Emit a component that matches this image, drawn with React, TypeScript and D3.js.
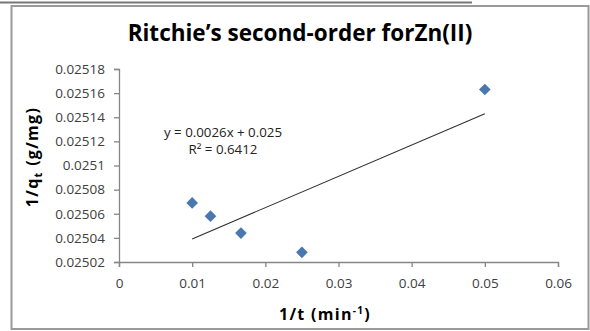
import * as d3 from "d3";
import {useEffect, useRef} from "react";

const WIDTH = 590;
const HEIGHT = 331;
// plot area inside the frame (where the axes sit)
const PLOT = {left: 119, right: 558, top: 69, bottom: 262};

// 1/t (min^-1) and 1/qt (g/mg)
const invT = [0.01, 0.0125, 0.016667, 0.025, 0.05];
const invQ = [0.025069, 0.025058, 0.025044, 0.025028, 0.025163];

const xTicks = [0, 0.01, 0.02, 0.03, 0.04, 0.05, 0.06];
const xTickLabels = ["0", "0.01", "0.02", "0.03", "0.04", "0.05", "0.06"];
const yTicks = [0.02502, 0.02504, 0.02506, 0.02508, 0.0251, 0.02512, 0.02514, 0.02516, 0.02518];
const yTickLabels = ["0.02502", "0.02504", "0.02506", "0.02508", "0.0251", "0.02512", "0.02514", "0.02516", "0.02518"];

const equationText = "y = 0.0026x + 0.025";
const r2Text = "R² = 0.6412";

const FONT = "'Open Sans', sans-serif";
const AXIS_GRAY = "#868686";
const MARKER = "#4A78AE";

const App = () => {
    const ref = useRef<SVGSVGElement>(null);

    useEffect(() => {
        const svg = d3.select(ref.current);
        svg.selectAll("*").remove();

        const x = d3.scaleLinear().domain([0, 0.06]).range([PLOT.left, PLOT.right]);
        const y = d3.scaleLinear().domain([0.02502, 0.02518]).range([PLOT.bottom, PLOT.top]);

        svg.append("rect").attr("width", WIDTH).attr("height", HEIGHT).attr("fill", "white");

        // table line on top + chart frame
        svg.append("line")
            .attr("x1", 0).attr("x2", 472).attr("y1", 2.5).attr("y2", 2.5)
            .attr("stroke", "#777").attr("stroke-width", 2);
        svg.append("rect")
            .attr("x", 11.5).attr("y", 6).attr("width", 577).attr("height", 323)
            .attr("fill", "none").attr("stroke", "#9a9a9a").attr("stroke-width", 2);

        // title
        svg.append("text")
            .attr("x", 300).attr("y", 41)
            .attr("text-anchor", "middle")
            .style("font-family", FONT).style("font-weight", "bold").style("font-size", "22.5px")
            .attr("fill", "#000")
            .text("Ritchie’s second-order forZn(II)");

        // axes
        const xAxis = d3.axisBottom(x)
            .tickValues(xTicks)
            .tickFormat((d, i) => xTickLabels[i])
            .tickSize(5).tickPadding(11);
        const yAxis = d3.axisLeft(y)
            .tickValues(yTicks)
            .tickFormat((d, i) => yTickLabels[i])
            .tickSize(5).tickPadding(9);

        const gx = svg.append("g").attr("transform", `translate(0,${PLOT.bottom})`).call(xAxis);
        const gy = svg.append("g").attr("transform", `translate(${PLOT.left},0)`).call(yAxis);
        [gx, gy].forEach(g => {
            g.select(".domain").attr("stroke", AXIS_GRAY).attr("stroke-width", 1.3);
            g.selectAll(".tick line").attr("stroke", AXIS_GRAY).attr("stroke-width", 1.3);
            g.selectAll(".tick text")
                .attr("fill", "#404040")
                .style("font-family", FONT).style("font-size", "13.5px");
        });

        // linear trendline (least squares)
        const mx = d3.mean(invT)!;
        const my = d3.mean(invQ)!;
        const sxy = d3.sum(invT, (v, i) => (v - mx) * (invQ[i] - my));
        const sxx = d3.sum(invT, v => (v - mx) ** 2);
        const slope = sxy / sxx;
        const intercept = my - slope * mx;
        const [x0, x1] = d3.extent(invT) as [number, number];
        svg.append("line")
            .attr("x1", x(x0)).attr("y1", y(intercept + slope * x0))
            .attr("x2", x(x1)).attr("y2", y(intercept + slope * x1))
            .attr("stroke", "#303030").attr("stroke-width", 1.1);

        // diamonds
        const diamond = d3.symbol().type(d3.symbolSquare).size(68);
        svg.append("g")
            .selectAll("path")
            .data(invT)
            .join("path")
            .attr("d", diamond)
            .attr("transform", (d, i) => `translate(${x(d)},${y(invQ[i])}) rotate(45)`)
            .attr("fill", MARKER);

        // trendline equation
        const eq = svg.append("text")
            .attr("text-anchor", "middle")
            .style("font-family", FONT).style("font-size", "13.3px")
            .attr("fill", "#222");
        eq.append("tspan").attr("x", 223).attr("y", 137).text(equationText);
        eq.append("tspan").attr("x", 223).attr("y", 154).text(r2Text);

        // axis titles
        const xt = svg.append("text")
            .attr("x", 325).attr("y", 320)
            .attr("text-anchor", "middle")
            .style("font-family", FONT).style("font-weight", "bold").style("font-size", "16px")
            .style("letter-spacing", "1.3px");
        xt.append("tspan").text("1/t (min");
        xt.append("tspan").attr("dy", -6).style("font-size", "10px").text("-1");
        xt.append("tspan").attr("dy", 6).text(")");

        const yt = svg.append("text")
            .attr("transform", "translate(38,157) rotate(-90)")
            .attr("text-anchor", "middle")
            .style("font-family", FONT).style("font-weight", "bold").style("font-size", "16px")
            .style("letter-spacing", "1.3px");
        yt.append("tspan").text("1/q");
        yt.append("tspan").attr("dy", 4).style("font-size", "11px").text("t");
        yt.append("tspan").attr("dy", -4).text(" (g/mg)");
    }, []);

    return (
        <svg ref={ref} width={WIDTH} height={HEIGHT}
             style={{position: "absolute", left: 0, top: 0}}/>
    );
};

export default App;
